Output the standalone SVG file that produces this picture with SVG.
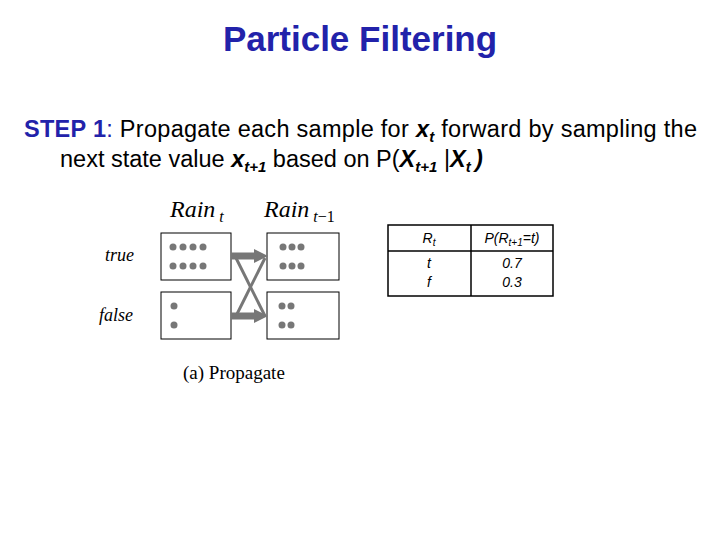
<svg xmlns="http://www.w3.org/2000/svg" width="720" height="540" viewBox="0 0 720 540">
<style>
.t{font-family:"Liberation Sans",Arial,sans-serif;font-size:23.5px;fill:#000}
.s{font-family:"Liberation Serif","Times New Roman",serif;font-style:italic;fill:#000}
.box{fill:#fff;stroke:#000;stroke-width:1}
.d{fill:#777}
.tb{font-family:"Liberation Sans",Arial,sans-serif;font-size:14px;font-style:italic;fill:#000;text-anchor:middle}
</style>
<rect width="720" height="540" fill="#fff"/>
<text x="360" y="51" text-anchor="middle" font-family="Liberation Sans,Arial,sans-serif" font-weight="bold" font-size="35" fill="#2222aa">Particle Filtering</text>
<text class="t" x="24" y="137" textLength="673" lengthAdjust="spacing"><tspan font-weight="bold" fill="#2222aa">STEP 1</tspan><tspan fill="#2222aa">: </tspan>Propagate each sample for <tspan font-weight="bold" font-style="italic">x</tspan><tspan font-weight="bold" font-style="italic" font-size="15" dy="5">t</tspan><tspan dy="-5"> forward by sampling the</tspan></text>
<text class="t" x="60" y="167">next state value  <tspan font-weight="bold" font-style="italic">x</tspan><tspan font-weight="bold" font-style="italic" font-size="15" dy="5">t+1</tspan><tspan dy="-5"> based on P(</tspan><tspan font-weight="bold" font-style="italic">X</tspan><tspan font-weight="bold" font-style="italic" font-size="15" dy="5">t+1</tspan><tspan dy="-5"> |</tspan><tspan font-weight="bold" font-style="italic">X</tspan><tspan font-weight="bold" font-style="italic" font-size="15" dy="5">t </tspan><tspan dy="-5" font-weight="bold" font-style="italic">)</tspan></text>
<g id="labels">
<text class="s" x="170" y="217" font-size="24">Rain<tspan font-size="16" dy="5"> t</tspan></text>
<text class="s" x="264" y="217" font-size="24">Rain<tspan font-size="16" dy="5" font-style="normal"> <tspan font-style="italic">t</tspan>−1</tspan></text>
<text class="s" x="105" y="261" font-size="18">true</text>
<text class="s" x="99" y="321" font-size="18">false</text>
<text x="183" y="379" font-family="Liberation Serif,serif" font-size="19">(a) Propagate</text>
</g>
<g id="n1"><rect class="box" x="161" y="233" width="70" height="47"/>
<g class="d"><circle cx="173" cy="247" r="3.5"/><circle cx="183" cy="247" r="3.5"/><circle cx="193" cy="247" r="3.5"/><circle cx="203" cy="247" r="3.5"/><circle cx="173" cy="266" r="3.5"/><circle cx="183" cy="266" r="3.5"/><circle cx="193" cy="266" r="3.5"/><circle cx="203" cy="266" r="3.5"/></g></g>
<g id="n2"><rect class="box" x="161" y="292" width="70" height="47"/>
<g class="d"><circle cx="174" cy="306" r="3.5"/><circle cx="174" cy="325" r="3.5"/></g></g>
<g id="n3"><rect class="box" x="267" y="233" width="72" height="47"/>
<g class="d"><circle cx="283" cy="247" r="3.5"/><circle cx="292" cy="247" r="3.5"/><circle cx="301" cy="247" r="3.5"/><circle cx="283" cy="266" r="3.5"/><circle cx="292" cy="266" r="3.5"/><circle cx="301" cy="266" r="3.5"/></g></g>
<g id="n4"><rect class="box" x="267" y="292" width="72" height="47"/>
<g class="d"><circle cx="282" cy="306" r="3.5"/><circle cx="291" cy="306" r="3.5"/><circle cx="282" cy="325" r="3.5"/><circle cx="291" cy="325" r="3.5"/></g></g>
<g id="connectors" stroke="#777" fill="none">
<line x1="236" y1="258" x2="265" y2="316" stroke-width="3"/>
<line x1="236" y1="316" x2="265" y2="258" stroke-width="3"/>
<path d="M231,256H256" stroke-width="7"/><path d="M254,249L268,256L254,263z" fill="#777" stroke="none"/>
<path d="M231,316H256" stroke-width="7"/><path d="M254,309L268,316L254,323z" fill="#777" stroke="none"/>
</g>
<g id="table">
<rect x="388" y="225" width="165" height="71" fill="#fff" stroke="#000" stroke-width="1.5"/>
<line x1="471" y1="225" x2="471" y2="296" stroke="#000" stroke-width="1.5"/>
<line x1="388" y1="251" x2="553" y2="251" stroke="#000" stroke-width="1.5"/>
<text class="tb" x="429" y="243">R<tspan font-size="10" dy="3">t</tspan></text>
<text class="tb" x="512" y="243">P(R<tspan font-size="10" dy="3">t+1</tspan><tspan dy="-3">=t)</tspan></text>
<text class="tb" x="429" y="268">t</text><text class="tb" x="429" y="287">f</text>
<text class="tb" x="512" y="268" font-style="normal">0.7</text><text class="tb" x="512" y="287" font-style="normal">0.3</text>
</g>
</svg>
